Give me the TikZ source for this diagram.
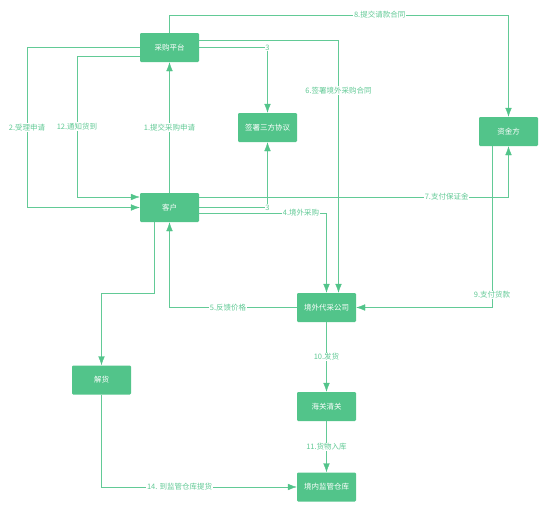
\documentclass[tikz,border=0pt]{standalone}
\usepackage{fontspec}
\setmainfont{Noto Sans CJK SC}
\usepackage{tikz}
\usetikzlibrary{shapes, arrows, calc, arrows.meta, positioning}
\definecolor{boxgreen}{HTML}{52C48A}
\definecolor{linegreen}{HTML}{62CA96}
\tikzset{
    -{Latex[length=9pt,width=6.5pt,color=boxgreen]}, line width=1.1pt, % every connector ends in a latex tip
    flowbox/.style = {rectangle, rounded corners=1.2pt, fill=boxgreen, draw=none, text=white,
                      minimum width=59pt, minimum height=29pt, inner sep=0pt, font=\fontsize{7.5}{9}\selectfont},
    el/.style = {fill=white, inner sep=0.6pt, text=linegreen, font=\fontsize{7.5}{9}\selectfont} % labels sitting on the lines
}
\begin{document}
\begin{tikzpicture}[x=1pt, y=-1pt, color=linegreen]
  \useasboundingbox (0,0) rectangle (554,517);
  % boxes
  \node[flowbox] (cg) at (169.5,47.5) {采购平台};
  \node[flowbox] (qs) at (267.5,127.5) {签署三方协议};
  \node[flowbox] (zj) at (508.5,131.5) {资金方};
  \node[flowbox] (kh) at (169.5,207.5) {客户};
  \node[flowbox] (jw) at (326.5,307.5) {境外代采公司};
  \node[flowbox] (jh) at (101.5,380) {解货};
  \node[flowbox] (hg) at (326.5,406.5) {海关清关};
  \node[flowbox] (cw) at (326.5,487) {境内监管仓库};
  % flows
  \draw (kh) -- node[el] {1.提交采购申请} (cg);
  \draw (cg.west) -- (27,47.5) -- node[el] {2.受理申请} (27,207.5) -- (kh.west);
  \draw ([yshift=-8.5pt]cg.west) -- (77,56) -- node[el] {12.通知货到} (77,197) -- ([yshift=10.5pt]kh.west);
  \draw (cg.east) -| node[el, pos=0.5] {3} (qs.north);
  \draw (kh.east) -| node[el, pos=0.5] {3} (qs.south);
  \draw (cg.north) -- ++(0,-18) -| node[el, pos=0.31] {8.提交请款合同} (zj.north);
  \draw ([yshift=7.5pt]cg.east) -| node[el, pos=0.6] {6.签署境外采购合同} ([xshift=12pt]jw.north);
  \draw ([yshift=10.5pt]kh.east) -| node[el, pos=0.4] {7.支付保证金} (zj.south);
  \draw ([yshift=-5.5pt]kh.east) -| node[el, pos=0.4] {4.境外采购} (jw.north);
  \draw (jw.west) -| node[el, pos=0.27] {5.反馈价格} (kh.south);
  \draw ([xshift=-16.5pt]zj.south) |- node[el, pos=0.46] {9.支付货款} (jw.east);
  \draw ([xshift=-15.5pt]kh.south) -- ++(0,71) -| (jh.north);
  \draw (jw) -- node[el] {10.发货} (hg);
  \draw (hg) -- node[el] {11.货物入库} (cw);
  \draw (jh.south) |- node[el, pos=0.7] {14. 到监管仓库提货} (cw.west);
\end{tikzpicture}
\end{document}
